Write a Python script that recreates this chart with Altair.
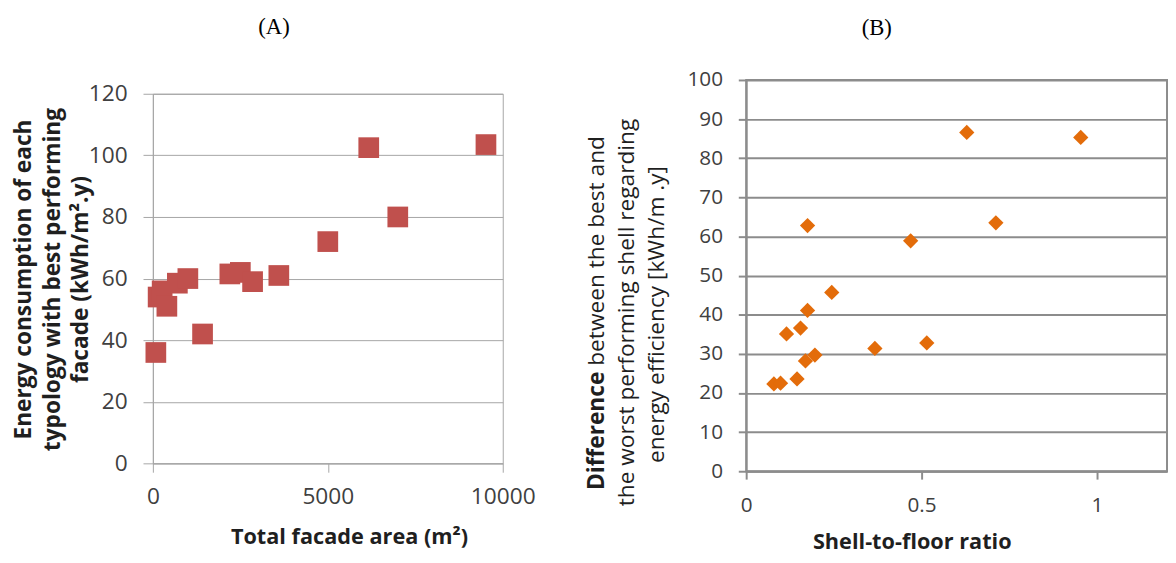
import altair as alt
import pandas as pd

# ---- Panel A data: total facade area vs energy consumption ----
facade_area = [85, 150, 265, 400, 700, 1000, 1420, 2200, 2500, 2850, 3600, 5000, 6170, 7000, 9520]
energy_best = [36, 54, 56, 51, 58.5, 60, 42, 61.5, 62, 59, 61, 72, 102.5, 80, 103.5]

# ---- Panel B data: shell-to-floor ratio vs difference ----
shell_ratio = [0.079, 0.098, 0.115, 0.145, 0.155, 0.175, 0.175, 0.169, 0.196, 0.244,
               0.367, 0.469, 0.515, 0.629, 0.712, 0.954]
shell_diff = [22.3, 22.5, 35.1, 23.6, 36.6, 62.8, 41.1, 28.2, 29.7, 45.7,
              31.4, 58.9, 32.8, 86.6, 63.5, 85.3]

a_ticks_x = [0, 5000, 10000]
a_ticks_y = [0, 20, 40, 60, 80, 100, 120]
b_ticks_x = [0, 0.5, 1]
b_ticks_y = [0, 10, 20, 30, 40, 50, 60, 70, 80, 90, 100]

a_title_y = ["Energy consumption of each", "typology with best performing", "facade (kWh/m\u00b2.y)"]
a_title_x = "Total facade area (m\u00b2)"
b_title_y1_bold = "Difference"
b_title_y1_rest = "between the best and"
b_title_y2 = "the worst performing shell regarding"
b_title_y3 = "energy efficiency [kWh/m .y]"
b_title_x = "Shell-to-floor ratio"

df_a = pd.DataFrame({"area": facade_area, "energy": energy_best})
df_b = pd.DataFrame({"ratio": shell_ratio, "diff": shell_diff})

FONT = "Open Sans"
GRID_A = "#a6a6a6"
GRID_B = "#8c8c8c"
LABEL_C = "#404040"
TITLE_C = "#1f1f1f"

WA, HA = 355, 375
WB, HB = 427, 397

points_a = alt.Chart(df_a).mark_square(size=441, color="#c0504d", opacity=1).encode(
    x=alt.X("area:Q", scale=alt.Scale(domain=[0, 10000], nice=False),
            axis=alt.Axis(values=a_ticks_x, format="d", grid=False, domainColor=GRID_A,
                          tickColor=GRID_A, tickSize=9, labelFont=FONT, labelFontSize=23,
                          labelColor=LABEL_C, labelPadding=14, labelFlush=False,
                          labelOverlap=False,
                          title=a_title_x, titleFont=FONT, titleFontSize=22,
                          titleFontWeight="bold", titleColor=TITLE_C, titleX=199, titleY=74,
                          titleBaseline="middle", titleAlign="center")),
    y=alt.Y("energy:Q", scale=alt.Scale(domain=[0, 120], nice=False),
            axis=alt.Axis(values=a_ticks_y, grid=True, gridColor=GRID_A, domainColor=GRID_A,
                          tickColor=GRID_A, tickSize=10, labelFont=FONT, labelFontSize=23,
                          labelColor=LABEL_C, labelPadding=16, labelOverlap=False,
                          title=a_title_y, titleFont=FONT, titleFontSize=23,
                          titleFontWeight="bold", titleColor=TITLE_C, titleLineHeight=29,
                          titleAngle=270, titleX=-131, titleY=188,
                          titleBaseline="middle", titleAlign="center")),
).properties(width=WA, height=HA,
             view=alt.ViewBackground(stroke=GRID_A, strokeWidth=1))

spacer = alt.Chart(pd.DataFrame({"v": [0]})).mark_text(text="").encode(
    x=alt.value(0), y=alt.value(0)
).properties(width=WA, height=1, view=alt.ViewBackground(stroke="transparent"))

panel_a = alt.vconcat(spacer, points_a, spacing=-4).properties(
    title=alt.Title("(A)", font="Liberation Serif", fontSize=23, fontWeight="normal",
                    color="black", anchor="middle", frame="bounds", offset=35)
)

points_b = alt.Chart(df_b).mark_point(shape="diamond", filled=True, size=240,
                                      color="#e36c0a", opacity=1).encode(
    x=alt.X("ratio:Q", scale=alt.Scale(domain=[0, 1.2], nice=False),
            axis=alt.Axis(values=b_ticks_x, format="~g", grid=False, domainColor=GRID_B,
                          domainWidth=2, tickColor=GRID_B, tickWidth=2, tickSize=8,
                          labelFont=FONT, labelFontSize=21, labelColor=LABEL_C,
                          labelPadding=16, labelFlush=False, labelOverlap=False,
                          title=b_title_x, titleFont=FONT, titleFontSize=22,
                          titleFontWeight="bold", titleColor=TITLE_C, titleX=168, titleY=71,
                          titleBaseline="middle", titleAlign="center")),
    y=alt.Y("diff:Q", scale=alt.Scale(domain=[0, 100], nice=False),
            axis=alt.Axis(values=b_ticks_y, grid=True, gridColor=GRID_B, gridWidth=2,
                          domainColor=GRID_B, domainWidth=2, tickColor=GRID_B, tickWidth=2,
                          tickSize=8, labelFont=FONT, labelFontSize=21, labelColor=LABEL_C,
                          labelPadding=16, labelOverlap=False, title=None)),
)


def ytext(txt, xpx, ypx, align, weight):
    return alt.Chart(pd.DataFrame({"t": [txt]})).mark_text(
        angle=270, align=align, baseline="middle", font=FONT, fontSize=23,
        fontWeight=weight, color=TITLE_C
    ).encode(text="t:N", x=alt.value(xpx), y=alt.value(ypx))


t1a = ytext(b_title_y1_bold, -151, 296, "right", "bold")
t1b = ytext(b_title_y1_rest, -151, 290, "left", "normal")
t2 = ytext(b_title_y2, -121, 236, "center", "normal")
t3 = ytext(b_title_y3, -90, 238, "center", "normal")

panel_b = alt.layer(points_b, t1a, t1b, t2, t3).properties(
    width=WB, height=HB,
    view=alt.ViewBackground(stroke=GRID_B, strokeWidth=2),
    title=alt.Title("(B)", font="Liberation Serif", fontSize=23, fontWeight="normal",
                    color="black", anchor="middle", frame="bounds", offset=30)
)

chart = alt.hconcat(panel_a, panel_b, spacing=50).properties(
    padding={"left": 4, "top": 4, "right": 0, "bottom": 0},
    background="white"
)

chart.save("out.html", embed_options={"renderer": "svg", "actions": False})
